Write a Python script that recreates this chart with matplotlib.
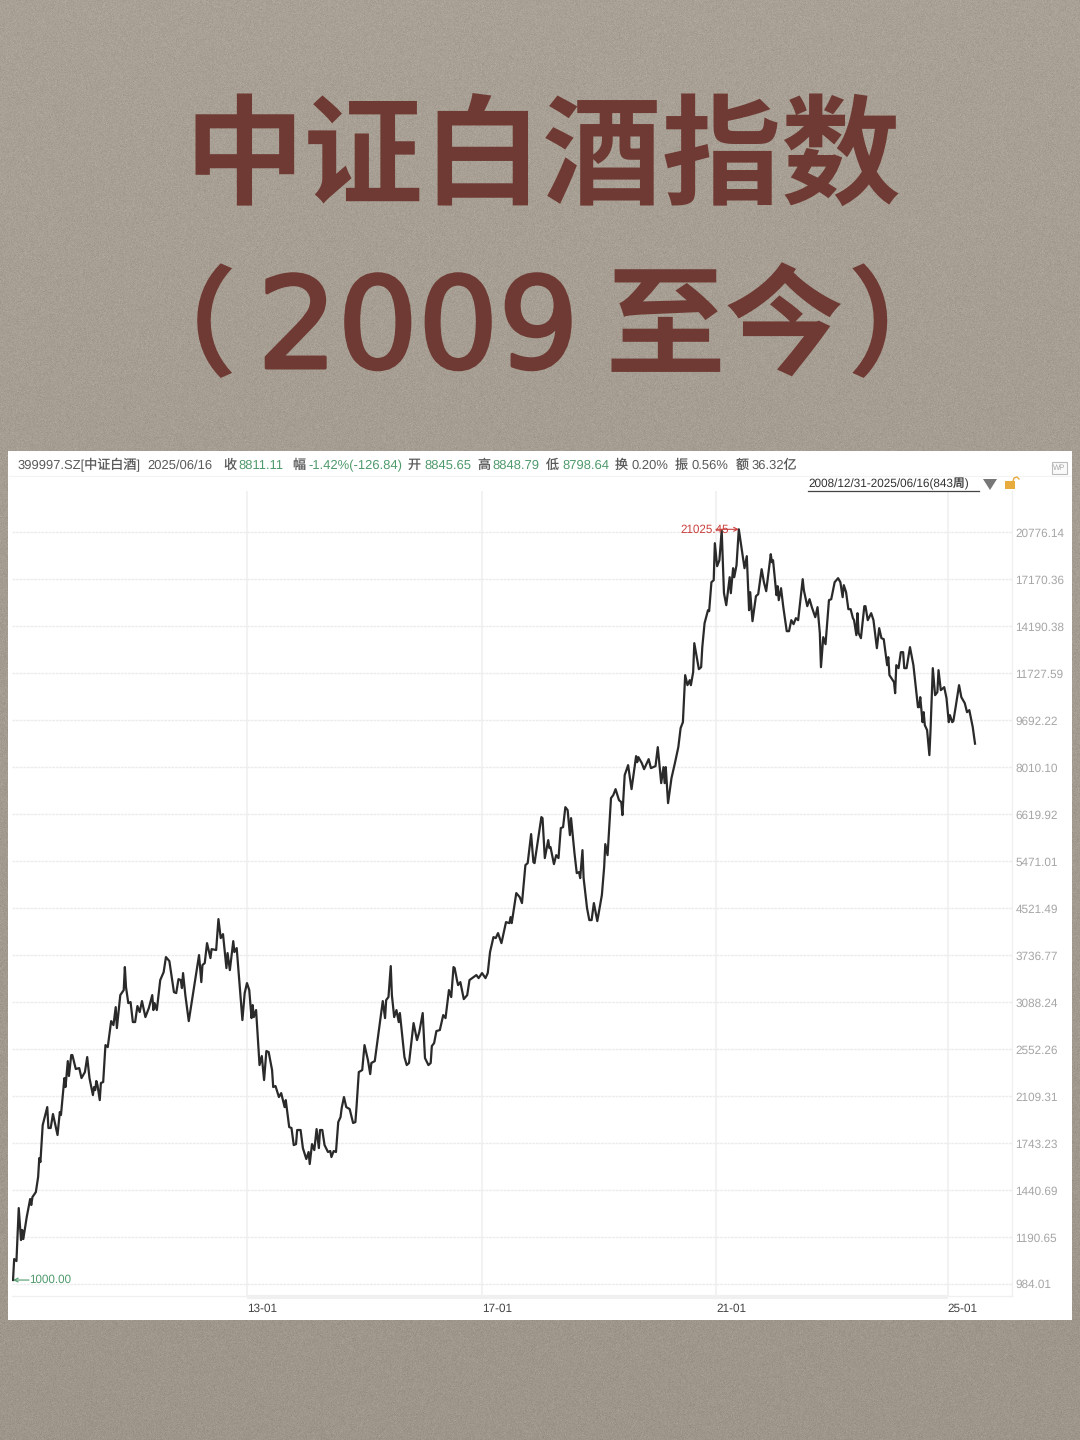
import numpy as np
import matplotlib
matplotlib.use("Agg")
import matplotlib.pyplot as plt
import matplotlib.patheffects as pe
from matplotlib.patches import Polygon, Rectangle

plt.rcParams["font.family"] = ["Liberation Sans", "Noto Sans CJK SC", "DejaVu Sans"]
plt.rcParams["text.hinting"] = "no_hinting"

# weekly closes, week number counted from 2008/12/31
weeks = [
    0, 1, 3, 5, 7, 8, 9, 12, 15, 16, 17, 20, 22, 23, 24, 26,
    30, 31, 33, 35, 39, 41, 42, 45, 46, 48, 49, 51, 52, 55, 58, 60,
    63, 65, 67, 70, 71, 72, 73, 74, 76, 77, 79, 81, 83, 86, 88, 90,
    91, 94, 97, 98, 99, 101, 103, 105, 107, 109, 111, 113, 116, 119, 122, 123,
    124, 126, 129, 132, 134, 137, 141, 143, 145, 147, 148, 149, 151, 154, 163, 165,
    166, 168, 170, 173, 174, 178, 180, 182, 184, 187, 188, 190, 193, 194, 196, 201,
    203, 205, 207, 209, 210, 211, 213, 216, 218, 220, 222, 224, 227, 228, 230, 233,
    235, 238, 239, 242, 244, 246, 248, 249, 252, 254, 257, 259, 260, 262, 264, 266,
    268, 269, 271, 273, 276, 278, 279, 281, 283, 285, 287, 288, 290, 292, 295, 298,
    300, 301, 303, 306, 308, 311, 313, 314, 317, 320, 324, 326, 327, 329, 331, 332,
    334, 336, 338, 339, 343, 345, 347, 351, 354, 356, 359, 361, 364, 366, 367, 369,
    371, 374, 377, 379, 382, 384, 386, 387, 389, 390, 392, 395, 398, 400, 406, 408,
    411, 414, 416, 418, 421, 423, 425, 428, 432, 435, 436, 437, 441, 444, 446, 449,
    451, 454, 456, 457, 460, 463, 464, 466, 469, 470, 471, 474, 476, 478, 480, 482,
    484, 486, 488, 489, 490, 492, 494, 496, 497, 499, 500, 503, 505, 507, 509, 512,
    516, 518, 519, 521, 524, 526, 528, 531, 533, 534, 536, 539, 542, 546, 547, 548,
    551, 553, 557, 559, 563, 565, 568, 570, 571, 572, 574, 577, 580, 583, 585, 587,
    589, 591, 593, 594, 596, 597, 601, 603, 604, 606, 609, 610, 612, 614, 615, 617,
    619, 621, 623, 625, 628, 629, 631, 632, 634, 636, 639, 641, 643, 645, 646, 648,
    651, 653, 656, 658, 660, 664, 665, 666, 669, 670, 671, 673, 675, 678, 680, 682,
    684, 686, 688, 692, 693, 696, 698, 700, 703, 705, 707, 708, 710, 712, 715, 717,
    720, 723, 725, 727, 728, 730, 732, 734, 736, 737, 739, 740, 741, 743, 746, 747,
    749, 752, 754, 757, 759, 761, 763, 766, 767, 768, 772, 773, 774, 776, 778, 780,
    781, 783, 786, 789, 793, 794, 795, 797, 798, 799, 801, 803, 804, 806, 808, 810,
    811, 813, 816, 818, 820, 821, 823, 824, 826, 829, 831, 834, 836, 838, 841, 843,
]
close = [
    1000, 1089, 1080, 1339, 1176, 1225, 1181, 1291, 1389, 1356, 1400, 1429, 1519, 1640, 1614, 1875,
    2017, 1853, 1853, 1961, 1801, 1977, 1953, 2269, 2188, 2431, 2288, 2491, 2491, 2354, 2363, 2269,
    2325, 2471, 2269, 2118, 2188, 2161, 2242, 2206, 2075, 2224, 2233, 2594, 2573, 2859, 2813, 3026,
    2779, 3177, 3243, 3560, 3282, 3076, 3088, 2848, 2848, 3039, 2966, 3101, 2906, 3014, 3177, 2990,
    3076, 2990, 3377, 3488, 3707, 3647, 3216, 3203, 3390, 3377, 3269, 3474, 3177, 2859, 3737, 3349,
    3589, 3618, 3923, 3692, 3829, 3814, 4325, 4004, 4069, 3545, 3768, 3516, 3955, 3783, 3845, 2871,
    3203, 3336, 3243, 2894, 3051, 2906, 2990, 2392, 2481, 2251, 2532, 2522, 2344, 2188, 2197, 2101,
    2135, 2017, 2075, 1860, 1853, 1729, 1736, 1838, 1838, 1708, 1634, 1681, 1601, 1736, 1694, 1845,
    1708, 1838, 1838, 1729, 1681, 1688, 1647, 1688, 1681, 1898, 1937, 2009, 2101, 2017, 2001, 1891,
    1898, 2017, 2325, 2344, 2594, 2441, 2306, 2412, 2431, 2702, 3101, 2894, 3114, 3152, 3574, 3177,
    2906, 2990, 2848, 2954, 2471, 2392, 2412, 2836, 2647, 2735, 2954, 2461, 2392, 2412, 2584, 2615,
    2746, 2757, 2930, 2894, 3243, 3152, 3560, 3545, 3377, 3309, 3349, 3126, 3177, 3377, 3446, 3404,
    3474, 3404, 3474, 3783, 4020, 4004, 4086, 3923, 4272, 4255, 4360, 4255, 4806, 4728, 4615, 5384,
    5427, 6105, 5449, 5427, 5958, 6541, 6514, 5539, 5958, 5768, 5791, 5405, 5606, 5539, 6255, 6281,
    6811, 6729, 6080, 6514, 6205, 5652, 5212, 5233, 5107, 5721, 5107, 4522, 4307, 4307, 4615, 4290,
    4767, 5340, 5862, 5606, 7065, 7151, 7327, 7008, 6951, 6594, 7755, 8076, 7327, 8377, 8175, 8343,
    8142, 7946, 8275, 7979, 8044, 8688, 7508, 8011, 7508, 8011, 6923, 7662, 8142, 8688, 9384, 9615,
    11635, 11172, 11401, 11172, 11777, 13247, 11921, 12018, 13034, 14366, 15144, 15083, 16966, 17104, 19873, 18103,
    18549, 20949, 16225, 15455, 17313, 16225, 17957, 17313, 18177, 21025, 19161, 17957, 18853, 15144, 16291, 14483,
    16029, 16160, 17884, 16966, 16358, 19006, 18399, 18549, 16094, 16693, 15771, 16558, 15330, 13908, 13908, 14542,
    14308, 14661, 14542, 17173, 16424, 15392, 15835, 15330, 14720, 15330, 13795, 12018, 13573, 13193, 15771, 15835,
    16966, 17243, 16966, 15964, 16760, 16291, 15206, 15206, 14661, 14542, 13684, 14961, 13795, 13518, 15392, 15392,
    14542, 14961, 14542, 12981, 14078, 13518, 13464, 12116, 12516, 11635, 11309, 10815, 12116, 11970, 12772, 12772,
    11970, 11970, 13034, 12116, 10218, 10218, 10641, 9615, 10013, 9499, 9308, 8411, 9308, 11970, 10728, 10859,
    11873, 10948, 11082, 10598, 9615, 9892, 9615, 9654, 10218, 11172, 10641, 10386, 10013, 10095, 9422, 8811,
]

y_ticks = [984.01, 1190.65, 1440.69, 1743.23, 2109.31, 2552.26, 3088.24, 3736.77, 4521.49,
           5471.01, 6619.92, 8010.10, 9692.22, 11727.59, 14190.38, 17170.36, 20776.14]
x_ticks = [205, 411, 616, 819]
x_labels = ["13-01", "17-01", "21-01", "25-01"]

# header row: text, left edge in px, colour
GREY = "#5a5a5a"
GREEN = "#4f9a6c"
header = [
    ("399997.SZ[中证白酒]", 17, GREY), ("2025/06/16", 147, GREY),
    ("收", 223, GREY), ("8811.11", 238, GREEN),
    ("幅", 292, GREY), ("-1.42%(-126.84)", 308, GREEN),
    ("开", 408, GREY), ("8845.65", 424, GREEN),
    ("高", 477, GREY), ("8848.79", 492, GREEN),
    ("低", 546, GREY), ("8798.64", 562, GREEN),
    ("换", 615, GREY), ("0.20%", 631, GREY),
    ("振", 675, GREY), ("0.56%", 691, GREY),
    ("额", 736, GREY), ("36.32亿", 752, GREY),
]


def fx(px):
    return px / 1080


def fy(py):
    return 1 - py / 1440


fig = plt.figure(figsize=(10.8, 14.4), dpi=100)

# paper grain behind everything, only a texture
bg = fig.add_axes([0, 0, 1, 1], zorder=0)
rng = np.random.default_rng(7)
grain = rng.normal(0, 4, (1440, 1080))
shade = np.linspace(169, 158, 1440)[:, None]
rgb = np.stack([shade + grain, shade - 8 + grain, shade - 20 + grain], axis=2)
bg.imshow(np.clip(rgb, 0, 255).astype(np.uint8), aspect="auto", interpolation="nearest")
bg.axis("off")

fig.patches.append(Rectangle((fx(8), fy(1320)), fx(1064), 869 / 1440, transform=fig.transFigure,
                             facecolor="white", edgecolor="none", zorder=1))

# title
TITLE = "#6f3a34"
cjk = ["Noto Sans CJK SC", "DejaVu Sans"]
fig.text(fx(543), fy(160), "中证白酒指数", fontsize=86, color=TITLE, weight="bold",
         family=cjk, ha="center", va="center", zorder=3)
fig.text(fx(118), fy(331), "（", fontsize=86, color=TITLE, weight="bold", family=cjk,
         ha="left", va="center", zorder=3)
fig.text(fx(418), fy(333), "2009", fontsize=91, color=TITLE, family="DejaVu Sans",
         ha="center", va="center", zorder=3,
         path_effects=[pe.withStroke(linewidth=2.5, foreground=TITLE)])
fig.text(fx(725), fy(331), "至今", fontsize=86, color=TITLE, weight="bold", family=cjk,
         ha="center", va="center", zorder=3)
fig.text(fx(847), fy(331), "）", fontsize=86, color=TITLE, weight="bold", family=cjk,
         ha="left", va="center", zorder=3)

# header row and the range selector
for txt, left, col in header:
    fig.text(fx(left), fy(469), txt, fontsize=9.4, color=col, ha="left", va="baseline", zorder=3)
fig.text(fx(808), fy(488), "2008/12/31-2025/06/16(843周)", fontsize=8.5, color="#333333",
         ha="left", va="baseline", zorder=3)
fig.add_artist(plt.Line2D([fx(808), fx(979)], [fy(491), fy(491)], color="#444444", lw=0.9, zorder=3))
fig.add_artist(Polygon([(fx(983), fy(479)), (fx(997), fy(479)), (fx(990), fy(490))], closed=True,
                       transform=fig.transFigure, facecolor="#777777", edgecolor="none", zorder=3))
fig.add_artist(Rectangle((fx(1005), fy(489)), fx(10), 8 / 1440, transform=fig.transFigure,
                         facecolor="#e8ab3e", edgecolor="none", zorder=3))
fig.add_artist(plt.Line2D([fx(1013), fx(1014), fx(1017), fx(1019)], [fy(481), fy(478), fy(477), fy(479)],
                          color="#e8ab3e", lw=1.0, zorder=3))
fig.add_artist(Rectangle((fx(1052), fy(474)), fx(15), 12 / 1440, transform=fig.transFigure,
                         facecolor="#fafafa", edgecolor="#bbbbbb", lw=0.8, zorder=3))
fig.text(fx(1059.5), fy(468), "WP", fontsize=5.5, color="#aaaaaa", ha="center", va="center", zorder=4)
fig.add_artist(plt.Line2D([fx(9), fx(1071)], [fy(476), fy(476)], color="#f3f3f3", lw=0.8, zorder=2))

# chart
ax = fig.add_axes([fx(12), fy(1296), fx(1000), 805 / 1440], zorder=2)
ax.patch.set_alpha(0)
ax.plot(weeks, close, color="#2a2a2a", lw=1.6, solid_joinstyle="round", zorder=3)
ax.set_yscale("log")
ax.set_xlim(-0.9, 875.4)
ax.set_ylim(937.3, 24560)
ax.minorticks_off()
ax.set_yticks(y_ticks)
ax.set_yticklabels(["%.2f" % v for v in y_ticks], fontsize=8.5, color="#a6a6a6", ha="left")
ax.yaxis.tick_right()
ax.tick_params(axis="y", length=0, pad=2.5)
ax.set_xticks(x_ticks)
ax.set_xticklabels(x_labels, fontsize=8.5, color="#444444", ha="left")
ax.tick_params(axis="x", length=0, pad=5)
ax.grid(True, axis="y", color="#ececec", lw=1.0, ls=(0, (2, 0.6)))
ax.grid(True, axis="x", color="#f0f0f0", lw=1.2)
for side, sp in ax.spines.items():
    sp.set_color("#f0f0f0")
    sp.set_linewidth(1.0)
ax.spines["top"].set_visible(False)
ax.spines["left"].set_visible(False)

# scrollbar band under the plot between the first and last tick
ax.plot(x_ticks[0:1] + x_ticks[-1:], [933, 933], color="#f0f0f0", lw=3,
        solid_capstyle="butt", clip_on=False, zorder=1)

# high and low marks
RED = "#c9413f"
ax.text(585, 21025, "21025.45", fontsize=8.4, color=RED, ha="left", va="center", zorder=4)
ax.annotate("", xy=(636, 21025), xytext=(616, 21025),
            arrowprops=dict(arrowstyle="->", color=RED, lw=0.8, shrinkA=0, shrinkB=0, mutation_scale=7))
ax.text(14, 1000, "1000.00", fontsize=8.4, color=GREEN, ha="left", va="center", zorder=4)
ax.annotate("", xy=(0, 1000), xytext=(14, 1000),
            arrowprops=dict(arrowstyle="->", color=GREEN, lw=0.8, shrinkA=0, shrinkB=0, mutation_scale=7))

fig.savefig("out.png", dpi=100)
